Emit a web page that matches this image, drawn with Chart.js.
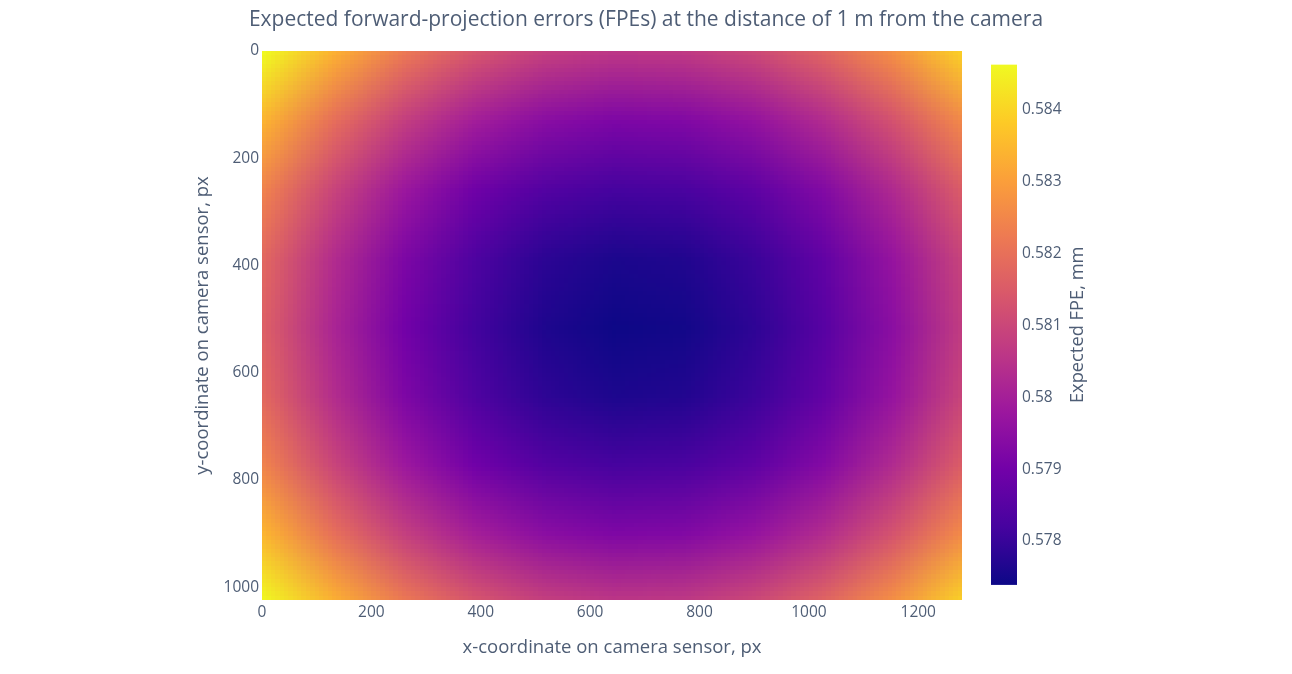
<!DOCTYPE html>
<html>
<head>
<meta charset="utf-8">
<script src="https://cdn.jsdelivr.net/npm/chart.js@4.4.1/dist/chart.umd.min.js"></script>
<style>
  html, body { margin: 0; padding: 0; background: #fff; }
</style>
</head>
<body>
<canvas id="chart" width="1292" height="674"></canvas>
<script>
// sample positions on the sensor (px)
const xSamples = [0, 128, 256, 384, 512, 640, 768, 896, 1024, 1152, 1280];
const ySamples = [0, 128, 256, 384, 512, 640, 768, 896, 1024];

// expected FPE (mm), one row per y sample
const fpe = [
    [0.58463, 0.58333, 0.58219, 0.58135, 0.58082, 0.58059, 0.58066, 0.58103, 0.58171, 0.58269, 0.58397],
    [0.58338, 0.58194, 0.58079, 0.57995, 0.57942, 0.57919, 0.57926, 0.57963, 0.58031, 0.58129, 0.58257],
    [0.58238, 0.58094, 0.57979, 0.57895, 0.57843, 0.57819, 0.57826, 0.57864, 0.57931, 0.58029, 0.58158],
    [0.58178, 0.58034, 0.57920, 0.57836, 0.57783, 0.57760, 0.57767, 0.57804, 0.57871, 0.57970, 0.58098],
    [0.58159, 0.58015, 0.57901, 0.57817, 0.57764, 0.57740, 0.57747, 0.57785, 0.57852, 0.57950, 0.58079],
    [0.58180, 0.58036, 0.57922, 0.57838, 0.57785, 0.57761, 0.57768, 0.57806, 0.57873, 0.57971, 0.58100],
    [0.58241, 0.58097, 0.57982, 0.57898, 0.57845, 0.57822, 0.57829, 0.57866, 0.57934, 0.58032, 0.58160],
    [0.58341, 0.58197, 0.58083, 0.57999, 0.57946, 0.57923, 0.57929, 0.57967, 0.58034, 0.58133, 0.58261],
    [0.58463, 0.58338, 0.58224, 0.58140, 0.58087, 0.58064, 0.58071, 0.58108, 0.58176, 0.58274, 0.58402]
];

const xTicks = [0, 200, 400, 600, 800, 1000, 1200];
const yTicks = [0, 200, 400, 600, 800, 1000];
const colorbarTicks = [0.578, 0.579, 0.580, 0.581, 0.582, 0.583, 0.584];
const zMin = 0.57739;
const zMax = 0.58463;

const plasma = ['#0d0887', '#46039f', '#7201a8', '#9c179e', '#bd3786',
                '#d8576b', '#ed7953', '#fb9f3a', '#fdca26', '#f0f921'];

const textColor = '#4e5d75';
Chart.defaults.font.family = '"Open Sans", sans-serif';
Chart.defaults.color = textColor;

const plasmaRgb = plasma.map(h => [1, 3, 5].map(i => parseInt(h.substr(i, 2), 16)));

function colorAt(v) {
    let t = (v - zMin) / (zMax - zMin);
    t = Math.min(1, Math.max(0, t));
    const p = t * (plasmaRgb.length - 1);
    const i = Math.min(plasmaRgb.length - 2, Math.floor(p));
    const f = p - i;
    return plasmaRgb[i].map((c, k) => Math.round(c + (plasmaRgb[i + 1][k] - c) * f));
}

const heatmap = {
    id: 'heatmap',
    beforeDatasetsDraw(chart) {
        const {ctx, chartArea, scales: {x, y}} = chart;
        const nx = xSamples.length, ny = ySamples.length;
        const off = document.createElement('canvas');
        off.width = nx;
        off.height = ny;
        const octx = off.getContext('2d');
        const img = octx.createImageData(nx, ny);
        fpe.forEach((row, j) => row.forEach((v, i) => {
            const [r, g, b] = colorAt(v);
            const k = (j * nx + i) * 4;
            img.data[k] = r;
            img.data[k + 1] = g;
            img.data[k + 2] = b;
            img.data[k + 3] = 255;
        }));
        octx.putImageData(img, 0, 0);

        const hx = (xSamples[1] - xSamples[0]) / 2;
        const hy = (ySamples[1] - ySamples[0]) / 2;
        const left = x.getPixelForValue(xSamples[0] - hx);
        const right = x.getPixelForValue(xSamples[nx - 1] + hx);
        const top = y.getPixelForValue(ySamples[0] - hy);
        const bottom = y.getPixelForValue(ySamples[ny - 1] + hy);

        ctx.save();
        ctx.beginPath();
        ctx.rect(chartArea.left, chartArea.top, chartArea.right - chartArea.left, chartArea.bottom - chartArea.top);
        ctx.clip();
        ctx.imageSmoothingEnabled = true;
        ctx.drawImage(off, left, top, right - left, bottom - top);
        ctx.restore();
    },
    afterDraw(chart) {
        const {ctx, chartArea} = chart;
        const cb = chart.scales.cbar;
        const yTop = cb.getPixelForValue(zMax);
        const yBot = cb.getPixelForValue(zMin);
        const x0 = chartArea.right + 29;
        const grad = ctx.createLinearGradient(0, yBot, 0, yTop);
        plasma.forEach((c, i) => grad.addColorStop(i / (plasma.length - 1), c));
        ctx.save();
        ctx.fillStyle = grad;
        ctx.fillRect(x0, yTop, 26, yBot - yTop);

        ctx.translate(chartArea.right + 116, (yTop + yBot) / 2);
        ctx.rotate(-Math.PI / 2);
        ctx.font = '18.3px "Open Sans", sans-serif';
        ctx.fillStyle = textColor;
        ctx.textAlign = 'center';
        ctx.textBaseline = 'middle';
        ctx.fillText('Expected FPE, mm', 0, 0);
        ctx.restore();
    }
};

const points = [];
ySamples.forEach((yv, j) => xSamples.forEach((xv, i) => points.push({x: xv, y: yv, v: fpe[j][i]})));

const noPad = s => { s.paddingTop = 0; s.paddingBottom = 0; };

new Chart(document.getElementById('chart'), {
    type: 'scatter',
    data: {
        datasets: [{
            data: points,
            pointRadius: 0,
            pointHoverRadius: 0
        }]
    },
    options: {
        responsive: false,
        animation: false,
        events: [],
        layout: {
            padding: {left: 188, right: 188, top: 0, bottom: 11}
        },
        plugins: {
            legend: {display: false},
            tooltip: {enabled: false},
            title: {
                display: true,
                text: 'Expected forward-projection errors (FPEs) at the distance of 1 m from the camera',
                font: {size: 21, weight: 'normal'},
                color: textColor,
                padding: {top: 7.4, bottom: 18.4}
            }
        },
        scales: {
            x: {
                type: 'linear',
                min: 0,
                max: 1280,
                grid: {display: false, drawTicks: false},
                border: {display: false},
                afterBuildTicks: s => { s.ticks = xTicks.map(v => ({value: v})); },
                ticks: {font: {size: 15.5}, padding: 3, callback: v => String(v)},
                title: {
                    display: true,
                    text: 'x-coordinate on camera sensor, px',
                    font: {size: 18.5}
                },
                afterFit: s => { s.height = 63; }
            },
            y: {
                type: 'linear',
                reverse: true,
                min: 0,
                max: 1024,
                grid: {display: false, drawTicks: false},
                border: {display: false},
                afterBuildTicks: s => { s.ticks = yTicks.map(v => ({value: v})); },
                ticks: {font: {size: 15.5}, padding: 3, callback: v => String(v)},
                title: {
                    display: true,
                    text: 'y-coordinate on camera sensor, px',
                    font: {size: 18.5}
                },
                afterFit: s => { s.width = 74; noPad(s); }
            },
            cbar: {
                type: 'linear',
                position: 'right',
                min: 0.57718,
                max: 0.58482,
                grid: {display: false, drawTicks: false},
                border: {display: false},
                afterBuildTicks: s => { s.ticks = colorbarTicks.map(v => ({value: v})); },
                ticks: {
                    font: {size: 15.5},
                    padding: 60,
                    callback: v => String(+v.toFixed(3))
                },
                afterFit: s => { s.width = 142; noPad(s); }
            }
        }
    },
    plugins: [heatmap]
});
</script>
</body>
</html>
